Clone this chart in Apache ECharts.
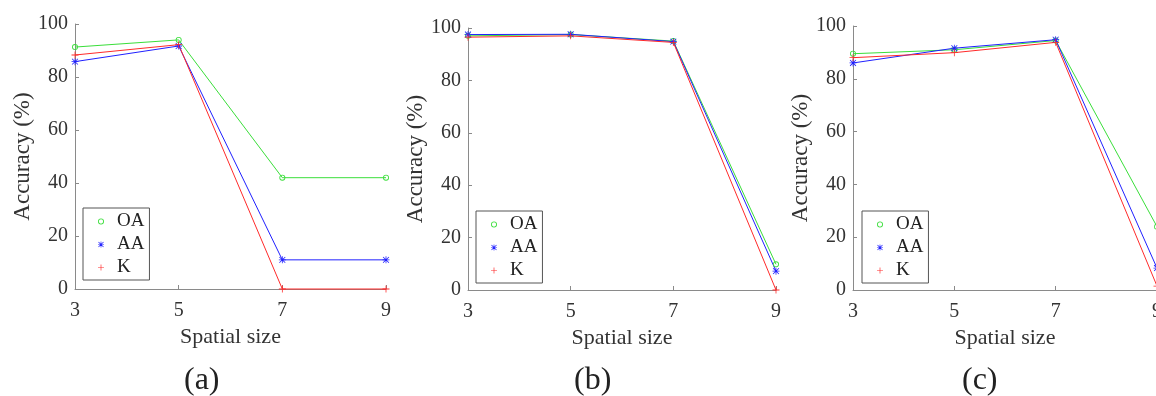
<!DOCTYPE html>
<html>
<head>
<meta charset="utf-8">
<script src="https://cdn.jsdelivr.net/npm/echarts@6/dist/echarts.min.js"></script>
<style>
  html, body { margin: 0; padding: 0; background: #fff; }
  #chart { width: 1156px; height: 396px; }
</style>
</head>
<body>
<div id="chart"></div>
<script>
// Spatial window sizes on the x axis
const sizes = [3, 5, 7, 9];
const yTicks = [0, 20, 40, 60, 80, 100];
const seriesNames = ['OA', 'AA', 'K'];
const panelLabels = ['(a)', '(b)', '(c)'];

// Accuracy (%) per panel and metric
const oaA = [91.3, 94.0, 42.0, 42.0];
const aaA = [85.8, 91.7, 11.0, 11.0];
const kA  = [88.3, 92.2, 0.0, 0.0];

const oaB = [97.0, 97.5, 95.0, 9.8];
const aaB = [97.5, 97.6, 94.8, 7.2];
const kB  = [96.5, 97.0, 94.5, 0.0];

const oaC = [89.5, 91.0, 94.5, 24.0];
const aaC = [86.0, 91.6, 94.8, 8.3];
const kC  = [88.0, 89.9, 93.8, 1.5];

const panels = [
  { OA: oaA, AA: aaA, K: kA },
  { OA: oaB, AA: aaB, K: kB },
  { OA: oaC, AA: aaC, K: kC }
];

const colors = { OA: '#3ade3a', AA: '#2020ff', K: '#ff2a2a' };

// Marker shapes: thin ring, asterisk and plus, drawn as filled outlines
const ringPath = 'path://M0,5A5,5 0 1,1 10,5A5,5 0 1,1 0,5Z M1.4,5A3.6,3.6 0 1,0 8.6,5A3.6,3.6 0 1,0 1.4,5Z';
const plusPath = 'path://M0,4.45L10,4.45L10,5.55L0,5.55Z M4.45,0L5.55,0L5.55,10L4.45,10Z';
const starPath = 'path://M0,4.45L10,4.45L10,5.55L0,5.55Z M4.45,0L5.55,0L5.55,10L4.45,10Z ' +
  'M1.2,0.4L9.6,8.8L8.8,9.6L0.4,1.2Z M8.8,0.4L9.6,1.2L1.2,9.6L0.4,8.8Z';
const symbols = { OA: ringPath, AA: starPath, K: plusPath };
const symbolSizes = { OA: 6, AA: 7, K: 7 };

const FONT = '"Liberation Serif", "Times New Roman", serif';

const grids = [
  { left: 75, top: 24, width: 311, height: 265 },
  { left: 468, top: 28, width: 308, height: 262 },
  { left: 853, top: 26, width: 304, height: 264 }
].map(g => Object.assign({ containLabel: false, outerBoundsMode: 'none' }, g));
const legendPos = [
  { left: 83, top: 208 },
  { left: 476, top: 211 },
  { left: 862, top: 211 }
];
const labelX = [202, 592, 980];

const axisLineStyle = { color: '#8a8a8a', width: 1 };

const option = {
  animation: false,
  backgroundColor: '#fff',
  grid: grids,
  xAxis: grids.map((g, i) => ({
    gridIndex: i,
    type: 'value',
    min: 3, max: 9, interval: 2,
    name: 'Spatial size',
    nameLocation: 'middle',
    nameGap: 36,
    nameTextStyle: { fontFamily: FONT, fontSize: 22, color: '#333' },
    axisLine: { show: true, onZero: false, lineStyle: axisLineStyle },
    axisTick: { show: true, inside: true, length: 4, lineStyle: axisLineStyle },
    axisLabel: { fontFamily: FONT, fontSize: 20, color: '#333', margin: 12,
      formatter: v => (sizes.indexOf(v) >= 0 ? String(v) : '') },
    splitLine: { show: false }
  })),
  yAxis: grids.map((g, i) => ({
    gridIndex: i,
    type: 'value',
    min: 0, max: 100, interval: 20,
    name: 'Accuracy (%)',
    nameLocation: 'middle',
    nameGap: 40,
    nameTextStyle: { fontFamily: FONT, fontSize: 23, color: '#333' },
    axisLine: { show: true, lineStyle: axisLineStyle },
    axisTick: { show: true, inside: true, length: 4, lineStyle: axisLineStyle },
    axisLabel: { fontFamily: FONT, fontSize: 20, color: '#333', margin: 7,
      formatter: v => (yTicks.indexOf(v) >= 0 ? String(v) : '') },
    splitLine: { show: false }
  })),
  legend: legendPos.map(p => ({
    orient: 'vertical',
    left: p.left, top: p.top,
    borderColor: '#555', borderWidth: 1, borderRadius: 0,
    padding: [4, 5, 3, 15],
    itemWidth: 6, itemHeight: 6, itemGap: 4,
    selectedMode: false,
    textStyle: { fontFamily: FONT, fontSize: 19, color: '#222', lineHeight: 19, padding: [0, 0, 0, 8] },
    data: seriesNames.map(n => ({ name: n, icon: symbols[n] }))
  })),
  series: [],
  graphic: panelLabels.map((t, i) => ({
    type: 'text',
    left: labelX[i] - 18,
    top: 365,
    style: { text: t, font: '32px ' + FONT, fill: '#222' }
  }))
};

panels.forEach((p, i) => {
  seriesNames.forEach(n => {
    option.series.push({
      type: 'line',
      name: n,
      xAxisIndex: i,
      yAxisIndex: i,
      data: sizes.map((s, k) => [s, p[n][k]]),
      symbol: symbols[n],
      symbolSize: symbolSizes[n],
      showAllSymbol: true,
      clip: false,
      lineStyle: { color: colors[n], width: 1 },
      itemStyle: { color: colors[n], borderWidth: 0 }
    });
  });
});

const chart = echarts.init(document.getElementById('chart'), null, { renderer: 'canvas' });
chart.setOption(option);
</script>
</body>
</html>
